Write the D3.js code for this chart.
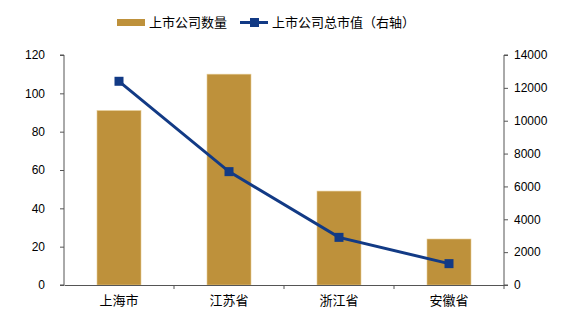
<!DOCTYPE html>
<html>
<head>
<meta charset="utf-8">
<script src="https://cdn.jsdelivr.net/npm/d3@7"></script>
<style>
  html, body { margin: 0; padding: 0; background: #fff; }
  svg { display: block; }
  text { font-family: "Liberation Sans", Arial, "Noto Sans CJK SC", sans-serif; fill: #000; }
</style>
</head>
<body>
<svg id="chart" width="588" height="328"></svg>
<script>
// Listed companies by province: count (bars, left axis) and total market value (line, right axis)
const categories = ["上海市", "江苏省", "浙江省", "安徽省"];
const companyCount = [91, 110, 49, 24];
const marketValue = [12400, 6900, 2900, 1300];
const leftTicks = [0, 20, 40, 60, 80, 100, 120];
const rightTicks = [0, 2000, 4000, 6000, 8000, 10000, 12000, 14000];
const seriesNames = ["上市公司数量", "上市公司总市值（右轴）"];

const barColor = "#BE913B";
const lineColor = "#123A85";
const axisColor = "#555";

const svg = d3.select("#chart");
const margin = { left: 64, right: 84, top: 55, bottom: 43 };
const W = 588, H = 328;
const x0 = margin.left, x1 = W - margin.right;
const y0 = H - margin.bottom, y1 = margin.top;

const x = d3.scaleBand().domain(categories).range([x0, x1]).paddingInner(0.6).paddingOuter(0.3);
const xOuter = d3.scaleBand().domain(categories).range([x0, x1]);
const yL = d3.scaleLinear().domain([0, 120]).range([y0, y1]);
const yR = d3.scaleLinear().domain([0, 14000]).range([y0, y1]);

// Bars
svg.append("g").selectAll("rect").data(categories).join("rect")
  .attr("x", d => x(d))
  .attr("width", x.bandwidth())
  .attr("y", (d, i) => yL(companyCount[i]))
  .attr("height", (d, i) => y0 - yL(companyCount[i]))
  .attr("fill", barColor)
  .attr("stroke", "#E6CC94")
  .attr("stroke-width", 0.6);

// Left axis
const gL = svg.append("g").attr("transform", `translate(${x0},0)`)
  .call(d3.axisLeft(yL).tickValues(leftTicks).tickSize(4).tickPadding(15));
// Right axis
const gR = svg.append("g").attr("transform", `translate(${x1},0)`)
  .call(d3.axisRight(yR).tickValues(rightTicks).tickFormat(d3.format("d")).tickSize(4).tickPadding(6));
// Bottom axis with ticks between categories
const gB = svg.append("g").attr("transform", `translate(0,${y0})`)
  .call(d3.axisBottom(xOuter).tickSize(0).tickPadding(11));
gB.selectAll(".tick").append("line")
  .attr("x1", xOuter.bandwidth() / 2).attr("x2", xOuter.bandwidth() / 2)
  .attr("y1", 0).attr("y2", 4).attr("stroke", axisColor);

[gL, gR, gB].forEach(g => {
  g.select(".domain").attr("stroke", axisColor);
  g.selectAll(".tick line").attr("stroke", axisColor);
  g.selectAll(".tick text").style("font-size", "12px").attr("fill", "#111");
});
gB.selectAll(".tick text").style("font-size", "13px");
gL.select(".domain").attr("d", `M-4,${y1}H0V${y0}H-4`);
gR.select(".domain").attr("d", `M4,${y1}H0V${y0}H4`);

// Line with square markers
const cx = d => xOuter(d) + xOuter.bandwidth() / 2;
const line = d3.line().x((d, i) => cx(categories[i])).y(d => yR(d));
svg.append("path").datum(marketValue)
  .attr("d", line)
  .attr("fill", "none")
  .attr("stroke", lineColor)
  .attr("stroke-width", 3);
const ms = 9;
svg.append("g").selectAll("rect").data(marketValue).join("rect")
  .attr("x", (d, i) => cx(categories[i]) - ms / 2)
  .attr("y", d => yR(d) - ms / 2)
  .attr("width", ms).attr("height", ms)
  .attr("fill", lineColor);

// Legend
const lg = svg.append("g").attr("transform", "translate(0,22)");
lg.append("rect").attr("x", 117).attr("y", -3).attr("width", 28).attr("height", 7).attr("fill", barColor);
lg.append("text").attr("x", 149).attr("y", 5).style("font-size", "13px").text(seriesNames[0]);
lg.append("line").attr("x1", 240).attr("x2", 268).attr("y1", 0.5).attr("y2", 0.5)
  .attr("stroke", lineColor).attr("stroke-width", 3);
lg.append("rect").attr("x", 250).attr("y", -4).attr("width", 9).attr("height", 9).attr("fill", lineColor);
lg.append("text").attr("x", 272).attr("y", 5).style("font-size", "13px").text(seriesNames[1]);
</script>
</body>
</html>
